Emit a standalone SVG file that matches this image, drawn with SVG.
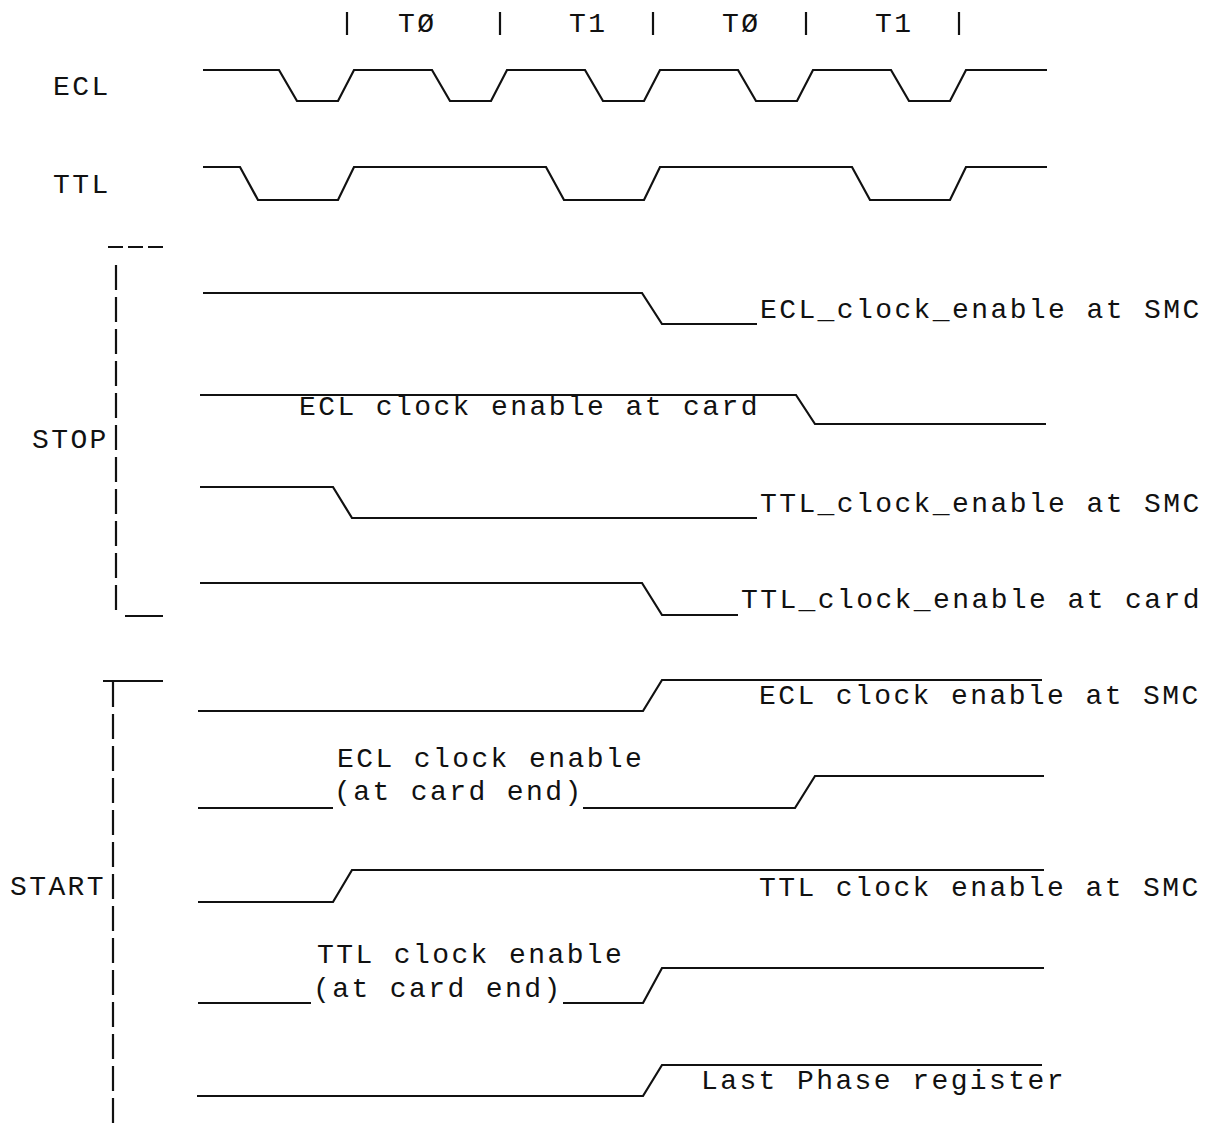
<svg xmlns="http://www.w3.org/2000/svg" width="1212" height="1127" viewBox="0 0 1212 1127">
<style>
  text { font-family: "Liberation Mono", "DejaVu Sans Mono", monospace; font-size: 28px; letter-spacing: 2.4px; fill: #111; }
  .w { fill: none; stroke: #111; stroke-width: 2.2; stroke-linejoin: miter; }
  .tick { stroke: #111; stroke-width: 2.2; }
  .br { stroke: #111; stroke-width: 2.2; stroke-dasharray: 25 7; fill: none; }
  .h { stroke: #111; stroke-width: 2.2; fill: none; }
</style>
<rect width="1212" height="1127" fill="#fff"/>

<g id="header">
  <line class="tick" x1="347" y1="12" x2="347" y2="35"/>
  <line class="tick" x1="500" y1="12" x2="500" y2="35"/>
  <line class="tick" x1="653" y1="12" x2="653" y2="35"/>
  <line class="tick" x1="806" y1="12" x2="806" y2="35"/>
  <line class="tick" x1="959" y1="12" x2="959" y2="35"/>
  <text x="398" y="32">TØ</text>
  <text x="569" y="32">T1</text>
  <text x="722" y="32">TØ</text>
  <text x="875" y="32">T1</text>
</g>

<g id="ecl">
  <text x="53" y="95">ECL</text>
  <path class="w" d="M203,70 H279 L297,101 H338 L354,70 H432 L450,101 H491 L507,70 H585 L603,101 H644 L660,70 H738 L756,101 H797 L813,70 H891 L909,101 H950 L966,70 H1047"/>
</g>

<g id="ttl">
  <text x="53" y="193">TTL</text>
  <path class="w" d="M203,167 H240 L258,200 H338 L354,167 H546 L564,200 H644 L660,167 H852 L870,200 H950 L966,167 H1047"/>
</g>

<g id="stop-bracket">
  <line class="h" x1="108" y1="247" x2="163" y2="247" stroke-dasharray="15 5"/>
  <line class="br" x1="116" y1="610" x2="116" y2="263"/>
  <line class="h" x1="125" y1="616" x2="163" y2="616"/>
  <text x="32" y="448">STOP</text>
</g>

<g id="stop-ecl-smc">
  <path class="w" d="M203,293 H642 L662,324 H757"/>
  <text x="760" y="318">ECL_clock_enable at SMC</text>
</g>

<g id="stop-ecl-card">
  <path class="w" d="M200,395 H796 L815,424 H1046"/>
  <text x="299" y="415">ECL clock enable at card</text>
</g>

<g id="stop-ttl-smc">
  <path class="w" d="M200,487 H333 L352,518 H757"/>
  <text x="760" y="512">TTL_clock_enable at SMC</text>
</g>

<g id="stop-ttl-card">
  <path class="w" d="M200,583 H642 L662,615 H738"/>
  <text x="741" y="608">TTL_clock_enable at card</text>
</g>

<g id="start-bracket">
  <line class="h" x1="103" y1="681" x2="163" y2="681"/>
  <line class="br" x1="113" y1="1123" x2="113" y2="681"/>
  <text x="10" y="895">START</text>
</g>

<g id="start-ecl-smc">
  <path class="w" d="M198,711 H643 L662,680 H1042"/>
  <text x="759" y="704">ECL clock enable at SMC</text>
</g>

<g id="start-ecl-card">
  <path class="w" d="M198,808 H333"/>
  <path class="w" d="M583,808 H795 L815,776 H1044"/>
  <text x="337" y="767">ECL clock enable</text>
  <text x="334" y="800">(at card end)</text>
</g>

<g id="start-ttl-smc">
  <path class="w" d="M198,902 H333 L352,870 H1044"/>
  <text x="759" y="896">TTL clock enable at SMC</text>
</g>

<g id="start-ttl-card">
  <path class="w" d="M198,1003 H311"/>
  <path class="w" d="M563,1003 H643 L662,968 H1044"/>
  <text x="317" y="963">TTL clock enable</text>
  <text x="313" y="997">(at card end)</text>
</g>

<g id="start-last-phase">
  <path class="w" d="M197,1096 H643 L662,1065 H1042"/>
  <text x="701" y="1089">Last Phase register</text>
</g>

<g id="connectors"></g>
</svg>
